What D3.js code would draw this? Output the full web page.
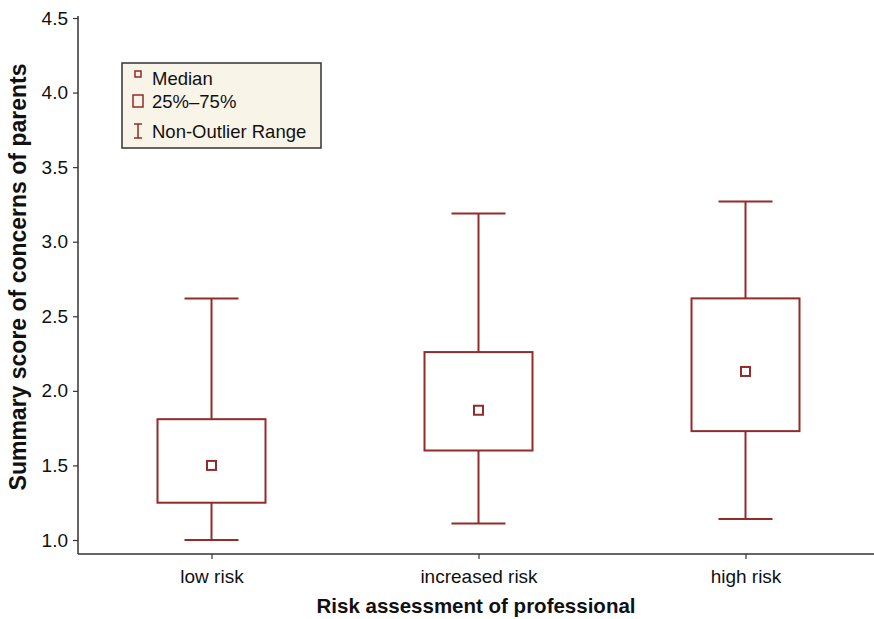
<!DOCTYPE html>
<html>
<head>
<meta charset="utf-8">
<script src="https://cdn.jsdelivr.net/npm/d3@7"></script>
<style>
  body { margin: 0; background: #fff; }
  svg text { font-family: "Liberation Sans", Arial, sans-serif; fill: #111; }
</style>
</head>
<body>
<svg id="chart"></svg>
<script>
// values
const categories = ['low risk', 'increased risk', 'high risk'];
const whiskerLow = [1.00, 1.11, 1.14];
const q25 = [1.25, 1.60, 1.73];
const medians = [1.50, 1.87, 2.13];
const q75 = [1.81, 2.26, 2.62];
const whiskerHigh = [2.62, 3.19, 3.27];
const yTicks = [1.0, 1.5, 2.0, 2.5, 3.0, 3.5, 4.0, 4.5];
const legendItems = ['Median', '25%\u201375%', 'Non-Outlier Range'];

const width = 874, height = 619;
const boxColor = '#922b2b';

const svg = d3.select('#chart')
    .attr('width', width)
    .attr('height', height);

const x = d3.scalePoint()
    .domain(categories)
    .range([78, 879])
    .padding(0.5);

const y = d3.scaleLinear()
    .domain([1, 4.5])
    .range([540, 18]);

const axisBottomY = 554;

// axes
const yAxis = svg.append('g')
    .attr('transform', 'translate(78,0)')
    .call(d3.axisLeft(y).tickValues(yTicks).tickFormat(d3.format('.1f')).tickSize(5).tickPadding(5));
yAxis.select('.domain').remove();
yAxis.selectAll('.tick line').attr('stroke', '#333').attr('stroke-width', 1.2);
yAxis.selectAll('.tick text').style('font-size', '19px').attr('fill', '#111');

const xAxis = svg.append('g')
    .attr('transform', `translate(0,${axisBottomY})`)
    .call(d3.axisBottom(x).tickSize(5).tickPadding(11));
xAxis.select('.domain').remove();
xAxis.selectAll('.tick line').attr('stroke', '#333').attr('stroke-width', 1.2);
xAxis.selectAll('.tick text').style('font-size', '19px').attr('fill', '#111');

svg.append('line')
    .attr('x1', 78).attr('x2', 78)
    .attr('y1', 16).attr('y2', axisBottomY)
    .attr('stroke', '#333').attr('stroke-width', 1.5);
svg.append('line')
    .attr('x1', 78).attr('x2', width)
    .attr('y1', axisBottomY).attr('y2', axisBottomY)
    .attr('stroke', '#333').attr('stroke-width', 1.5);

// titles
svg.append('text')
    .attr('x', 476).attr('y', 613)
    .attr('text-anchor', 'middle')
    .style('font-size', '20.5px').style('font-weight', 'bold')
    .text('Risk assessment of professional');

svg.append('text')
    .attr('transform', 'translate(26,277) rotate(-90)')
    .attr('text-anchor', 'middle')
    .style('font-size', '23px').style('font-weight', 'bold')
    .text('Summary score of concerns of parents');

// boxes
const boxW = 108, capW = 54, medS = 9;
const g = svg.append('g').attr('stroke', boxColor).attr('stroke-width', 2).attr('fill', 'none');

categories.forEach((c, i) => {
    const cx = x(c);
    // whiskers
    g.append('line').attr('x1', cx).attr('x2', cx).attr('y1', y(whiskerHigh[i])).attr('y2', y(q75[i]));
    g.append('line').attr('x1', cx).attr('x2', cx).attr('y1', y(q25[i])).attr('y2', y(whiskerLow[i]));
    g.append('line').attr('x1', cx - capW / 2).attr('x2', cx + capW / 2).attr('y1', y(whiskerHigh[i])).attr('y2', y(whiskerHigh[i]));
    g.append('line').attr('x1', cx - capW / 2).attr('x2', cx + capW / 2).attr('y1', y(whiskerLow[i])).attr('y2', y(whiskerLow[i]));
    // box
    g.append('rect')
        .attr('x', cx - boxW / 2).attr('y', y(q75[i]))
        .attr('width', boxW).attr('height', y(q25[i]) - y(q75[i]));
    // median
    g.append('rect')
        .attr('x', cx - medS / 2).attr('y', y(medians[i]) - medS / 2)
        .attr('width', medS).attr('height', medS);
});

// legend
const legend = svg.append('g').attr('transform', 'translate(122,63)');
legend.append('rect')
    .attr('width', 199).attr('height', 85)
    .attr('fill', '#f8f4e8').attr('stroke', '#333').attr('stroke-width', 1.5);

const baselines = [22, 45, 75];
legendItems.forEach((t, i) => {
    legend.append('text')
        .attr('x', 30).attr('y', baselines[i])
        .style('font-size', '18.5px')
        .text(t);
});
const ls = legend.append('g').attr('stroke', boxColor).attr('stroke-width', 1.5).attr('fill', 'none');
ls.append('rect').attr('x', 13).attr('y', 8).attr('width', 6).attr('height', 6);
ls.append('rect').attr('x', 11).attr('y', 32).attr('width', 10).attr('height', 12);
ls.append('line').attr('x1', 16).attr('x2', 16).attr('y1', 61).attr('y2', 75);
ls.append('line').attr('x1', 12).attr('x2', 20).attr('y1', 61).attr('y2', 61);
ls.append('line').attr('x1', 12).attr('x2', 20).attr('y1', 75).attr('y2', 75);
</script>
</body>
</html>
